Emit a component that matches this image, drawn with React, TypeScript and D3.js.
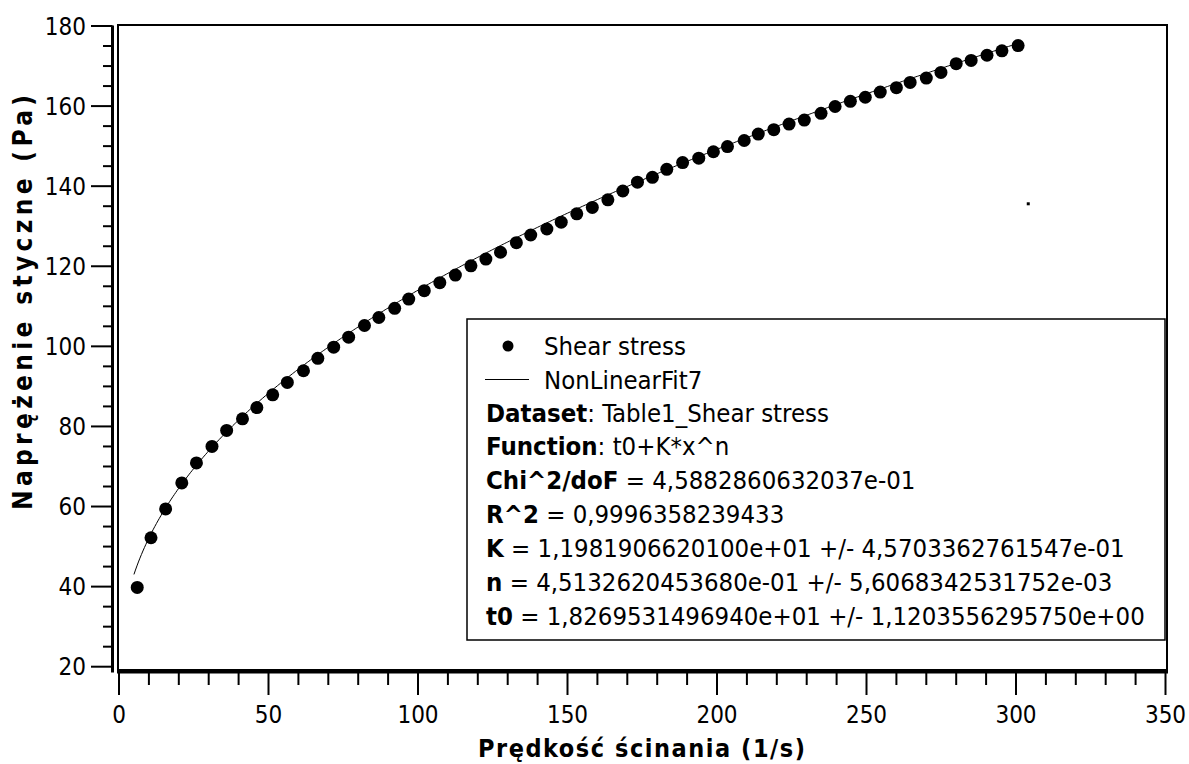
import React from "react";
import * as d3 from "d3";

// Shear rate (1/s) of each measured point
const shearRate = [
  6.1, 10.7, 15.6, 21.0, 25.9, 31.1, 36.0, 41.3, 46.1, 51.4, 56.3, 61.7, 66.5, 71.8, 76.8,
  82.1, 86.9, 92.2, 96.9, 102.1, 107.3, 112.5, 117.7, 122.7, 127.6, 132.9, 137.7, 143.1,
  147.9, 153.1, 158.3, 163.5, 168.5, 173.4, 178.4, 183.2, 188.5, 193.9, 198.8, 203.5, 209.1,
  213.8, 219.0, 224.1, 229.2, 234.8, 239.5, 244.6, 249.6, 254.6, 260.0, 264.6, 270.0, 274.9,
  280.0, 285.0, 290.3, 295.3, 300.7,
];

// Shear stress (Pa) of each measured point
const shearStress = [
  39.8, 52.2, 59.4, 65.9, 70.9, 75.0, 79.0, 81.9, 84.7, 87.9, 91.0, 93.9, 97.0, 99.8, 102.3,
  105.2, 107.2, 109.5, 111.8, 113.9, 115.9, 117.8, 120.1, 121.8, 123.5, 125.9, 127.8, 129.3,
  131.0, 133.1, 134.7, 136.6, 138.8, 141.0, 142.2, 144.2, 145.9, 147.0, 148.6, 149.9, 151.4,
  153.0, 154.1, 155.5, 156.5, 158.2, 159.9, 161.2, 162.2, 163.5, 164.6, 165.9, 167.0, 168.4,
  170.6, 171.4, 172.7, 173.8, 175.1,
];

// Fitted power-law parameters: t0 + K * x^n
const fitK = 11.9819066201;
const fitN = 0.4513262045368;
const fitT0 = 18.26953149694;
const fitRange = [5, 300];

// Stray marker inside the plot area
const strayPoint = [304.1, 135.6];

const xTicks = [0, 50, 100, 150, 200, 250, 300, 350];
const yTicks = [20, 40, 60, 80, 100, 120, 140, 160, 180];

const legendStats = [
  { bold: "Dataset", rest: ": Table1_Shear stress" },
  { bold: "Function", rest: ": t0+K*x^n" },
  { bold: "Chi^2/doF", rest: " = 4,5882860632037e-01" },
  { bold: "R^2", rest: " = 0,9996358239433" },
  { bold: "K", rest: " = 1,1981906620100e+01 +/- 4,5703362761547e-01" },
  { bold: "n", rest: " = 4,5132620453680e-01 +/- 5,6068342531752e-03" },
  { bold: "t0", rest: " = 1,8269531496940e+01 +/- 1,1203556295750e+00" },
];

const W = 1189;
const H = 764;
const FONT = "'DejaVu Sans Condensed', 'DejaVu Sans', sans-serif";

export default function App() {
  const x = d3.scaleLinear().domain([0, 350]).range([119, 1165.5]);
  const y = d3.scaleLinear().domain([20, 180]).range([666.7, 26]);

  const points = shearRate.map((sx, i) => ({ sx, sy: shearStress[i] }));

  const fitXs = d3.range(fitRange[0], fitRange[1] + 0.001, 0.5);
  const fitLine = d3
    .line<number>()
    .x((v) => x(v))
    .y((v) => y(fitT0 + fitK * Math.pow(v, fitN)))(fitXs);

  const xMinor = d3.range(0, 351, 10).filter((v) => v % 50 !== 0);
  const yMinor = d3.range(20, 181, 5).filter((v) => v % 20 !== 0);

  const frame = { left: 118, top: 25, right: 1167, bottom: 670 };
  const yAxisX = 112.5;
  const xAxisY = 671.5;

  const legend = { x: 467, y: 319, w: 698, h: 321 };
  const lineGap = 33.9;
  const legendFont = 25.5;

  return (
    <svg
      width={W}
      height={H}
      style={{ position: "absolute", left: 0, top: 0, background: "#fff" }}
      fontFamily={FONT}
    >
      <rect x={0} y={0} width={W} height={H} fill="#fff" />

      {/* plot frame */}
      <rect
        x={frame.left}
        y={frame.top}
        width={frame.right - frame.left}
        height={frame.bottom - frame.top}
        fill="none"
        stroke="#000"
        strokeWidth={2}
      />

      {/* y axis */}
      <line x1={yAxisX} x2={yAxisX} y1={y(180) - 0.5} y2={xAxisY + 1} stroke="#000" strokeWidth={3} />
      {yTicks.map((t) => (
        <g key={"yt" + t}>
          <line x1={91} x2={yAxisX} y1={y(t)} y2={y(t)} stroke="#000" strokeWidth={2} />
          <text x={86} y={y(t) + 8.6} textAnchor="end" fontSize={24} fill="#000">
            {t}
          </text>
        </g>
      ))}
      {yMinor.map((t) => (
        <line key={"ym" + t} x1={103} x2={yAxisX} y1={y(t)} y2={y(t)} stroke="#000" strokeWidth={2} />
      ))}

      {/* x axis */}
      <line x1={frame.left - 1} x2={frame.right + 1} y1={xAxisY} y2={xAxisY} stroke="#000" strokeWidth={4} />
      {xTicks.map((t) => (
        <g key={"xt" + t}>
          <line x1={x(t)} x2={x(t)} y1={xAxisY} y2={695} stroke="#000" strokeWidth={2} />
          <text x={x(t)} y={722.5} textAnchor="middle" fontSize={24} fill="#000">
            {t}
          </text>
        </g>
      ))}
      {xMinor.map((t) => (
        <line key={"xm" + t} x1={x(t)} x2={x(t)} y1={xAxisY} y2={685} stroke="#000" strokeWidth={2} />
      ))}

      {/* axis titles */}
      <text
        x={641.5}
        y={757}
        textAnchor="middle"
        fontSize={25}
        fontWeight="bold"
        textLength={327}
        lengthAdjust="spacing"
        fill="#000"
      >
        Prędkość ścinania (1/s)
      </text>
      <text
        transform={`translate(32, 302.5) rotate(-90)`}
        textAnchor="middle"
        fontSize={26}
        fontWeight="bold"
        textLength={415}
        lengthAdjust="spacing"
        fill="#000"
      >
        Naprężenie styczne (Pa)
      </text>

      {/* fitted curve */}
      <path d={fitLine ?? ""} fill="none" stroke="#000" strokeWidth={1} />

      {/* measured points */}
      {points.map((p, i) => (
        <circle key={"p" + i} cx={x(p.sx)} cy={y(p.sy)} r={6.5} fill="#000" />
      ))}

      <rect
        x={x(strayPoint[0]) - 1.5}
        y={y(strayPoint[1]) - 1.5}
        width={3}
        height={3}
        fill="#000"
      />

      {/* legend */}
      <rect
        x={legend.x}
        y={legend.y}
        width={legend.w}
        height={legend.h}
        fill="#fff"
        stroke="#000"
        strokeWidth={1.5}
      />
      <circle cx={508} cy={346} r={5.5} fill="#000" />
      <text x={544} y={346 + 9} fontSize={legendFont} fill="#000">
        Shear stress
      </text>
      <line x1={485} x2={529} y1={379.5} y2={379.5} stroke="#000" strokeWidth={1} />
      <text x={544} y={379.5 + 9} fontSize={legendFont} fill="#000">
        NonLinearFit7
      </text>
      {legendStats.map((s, i) => (
        <text key={"ls" + i} x={486} y={412.5 + i * lineGap + 9} fontSize={legendFont} fill="#000">
          <tspan fontWeight="bold">{s.bold}</tspan>
          <tspan>{s.rest}</tspan>
        </text>
      ))}
    </svg>
  );
}
